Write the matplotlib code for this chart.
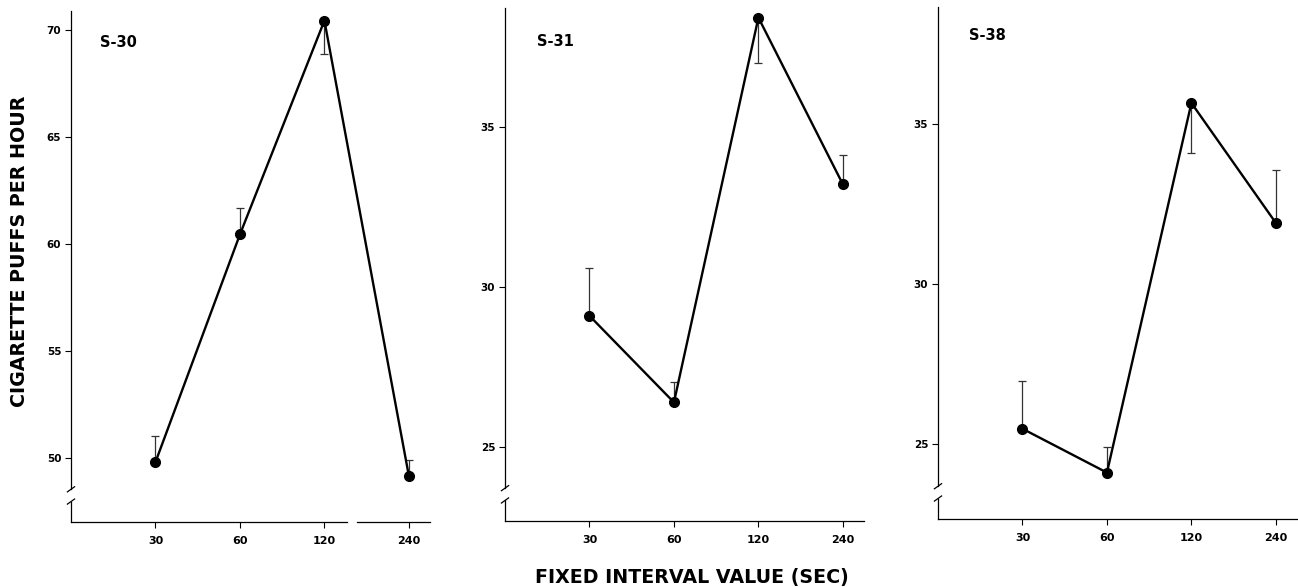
import matplotlib
matplotlib.use("Agg")
import matplotlib.pyplot as plt
import matplotlib.transforms as mtransforms
import numpy as np

plt.rcParams['font.family'] = ['DejaVu Sans']

# ---- data ----
categories = ["30", "60", "120", "240"]
subjects = ["S-30", "S-31", "S-38"]

s30_mean = [49.8, 60.45, 70.45, 49.15]
s30_err_end = [51.0, 61.7, 68.9, 49.9]

s31_mean = [29.1, 26.4, 38.4, 33.2]
s31_err_end = [30.6, 27.05, 37.0, 34.1]

s38_mean = [25.47, 24.1, 35.65, 31.9]
s38_err_end = [26.95, 24.9, 34.1, 33.55]

s30_yticks = [50, 55, 60, 65, 70]
s31_yticks = [25, 30, 35]
s38_yticks = [25, 30, 35]

s30_ylim = (47.0, 70.9)
s31_ylim = (22.7, 38.7)
s38_ylim = (22.65, 38.65)

panels = [
    (subjects[0], s30_mean, s30_err_end, s30_yticks, s30_ylim),
    (subjects[1], s31_mean, s31_err_end, s31_yticks, s31_ylim),
    (subjects[2], s38_mean, s38_err_end, s38_yticks, s38_ylim),
]

W, H = 1298, 587
fig = plt.figure(figsize=(W / 100, H / 100), dpi=100)

lefts_px = [71, 505, 938]
bottoms_px = [522, 521, 519]
tops_px = [11, 8, 7]
width_px = 359
label_pos = [(0.081, 0.939), (0.089, 0.934), (0.086, 0.945)]

xpos = np.arange(1, len(categories) + 1)

for i, (name, mean, err_end, yticks, ylim) in enumerate(panels):
    l = lefts_px[i] / W
    b = 1 - bottoms_px[i] / H
    h = (bottoms_px[i] - tops_px[i]) / H
    ax = fig.add_axes([l, b, width_px / W, h])

    mean = np.array(mean)
    err_end = np.array(err_end)
    diff = err_end - mean
    upper = np.where(diff > 0, diff, 0)
    lower = np.where(diff < 0, -diff, 0)

    ax.errorbar(xpos, mean, yerr=[lower, upper], fmt='none', ecolor='#333333',
                elinewidth=0.9, capsize=3, capthick=0.9, zorder=2)
    ax.plot(xpos, mean, color='black', lw=1.7, marker='o', markersize=7,
            markerfacecolor='black', markeredgecolor='black', zorder=3)

    ax.set_xlim(0, 4.25)
    ax.set_ylim(*ylim)
    ax.set_xticks(xpos)
    ax.set_xticklabels(categories)
    ax.set_yticks(yticks)
    ax.set_yticklabels([str(t) for t in yticks])

    for sp in ['top', 'right', 'left', 'bottom']:
        ax.spines[sp].set_visible(False)

    ax.tick_params(axis='y', direction='out', length=4, width=0.8, pad=3,
                   labelsize=7.5, colors='black')
    ax.tick_params(axis='x', direction='out', length=4, width=0.8, pad=6,
                   labelsize=8, colors='black')
    for lab in ax.get_xticklabels() + ax.get_yticklabels():
        lab.set_fontweight('bold')

    # y axis with break
    brk_hi, brk_lo = 0.064, 0.040
    ax.plot([0, 0], [brk_hi, 1], transform=ax.transAxes, color='black',
            lw=0.9, clip_on=False)
    ax.plot([0, 0], [0, brk_lo], transform=ax.transAxes, color='black',
            lw=0.9, clip_on=False)
    dx, dy = 0.010, 0.005
    for yb in (brk_hi, brk_lo):
        ax.plot([-dx, dx], [yb - dy, yb + dy], transform=ax.transAxes,
                color='black', lw=0.9, clip_on=False)

    # x axis
    trans = mtransforms.blended_transform_factory(ax.transData, ax.transAxes)
    if i == 0:
        ax.plot([0, 3.27], [0, 0], transform=trans, color='black', lw=0.9,
                clip_on=False)
        ax.plot([3.39, 4.25], [0, 0], transform=trans, color='black', lw=0.9,
                clip_on=False)
    else:
        ax.plot([0, 4.25], [0, 0], transform=trans, color='black', lw=0.9,
                clip_on=False)

    ax.text(label_pos[i][0], label_pos[i][1], name, transform=ax.transAxes,
            fontsize=10.5, fontweight='bold', ha='left', va='center')

fig.text(20 / W, 1 - 251 / H, "CIGARETTE PUFFS PER HOUR", rotation=90,
         ha='center', va='center', fontsize=13.7, fontweight='bold')
fig.text(692 / W, 1 - 577 / H, "FIXED INTERVAL VALUE (SEC)",
         ha='center', va='center', fontsize=13.7, fontweight='bold')

fig.savefig("out.png", dpi=100)
